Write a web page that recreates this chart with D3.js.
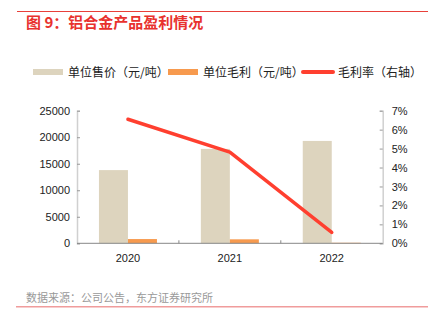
<!DOCTYPE html>
<html><head><meta charset="utf-8">
<script src="https://cdn.jsdelivr.net/npm/d3@7"></script>
<style>body{margin:0;background:#fff}svg{display:block}text{font-family:"Liberation Sans","Noto Sans CJK SC",sans-serif}</style>
</head><body>
<script>
const categories = ["2020","2021","2022"];
const unitPrice = [13800, 17800, 19300];
const unitProfit = [800, 750, 100];
const marginRate = [0.0655, 0.0481, 0.0058];
const leftTicks = [0,5000,10000,15000,20000,25000];
const rightTicks = [0,0.01,0.02,0.03,0.04,0.05,0.06,0.07];
const seriesNames = ["单位售价（元/吨）","单位毛利（元/吨）","毛利率（右轴）"];
const colors = ["#DDD4BE","#F79A4E","#FF3F2F"];

const W=438,H=328;
const svg=d3.select("body").append("svg").attr("width",W).attr("height",H);
const cjk='"Noto Sans CJK SC",sans-serif';

svg.append("line").attr("x1",17).attr("x2",428).attr("y1",11.5).attr("y2",11.5).attr("stroke","#E8403A").attr("stroke-width",1.2);
svg.append("text").attr("x",26).attr("y",28).attr("fill","#E8322E").attr("font-size",15).attr("font-weight","bold").style("font-family",cjk).text("图 9：铝合金产品盈利情况");

const x0=77,x1=382.7,yTop=110.7,yBot=243.3;
const x=d3.scaleBand().domain(categories).range([x0,x1]);
const y=d3.scaleLinear().domain([0,25000]).range([yBot,yTop]);
const y2=d3.scaleLinear().domain([0,0.07]).range([yBot,yTop]);
const bw=29;

// bars
svg.append("g").selectAll("rect").data(categories).join("rect")
 .attr("x",d=>x(d)+x.bandwidth()/2-bw).attr("width",bw)
 .attr("y",(d,i)=>y(unitPrice[i])).attr("height",(d,i)=>yBot-y(unitPrice[i])).attr("fill",colors[0]);
svg.append("g").selectAll("rect").data(categories).join("rect")
 .attr("x",d=>x(d)+x.bandwidth()/2).attr("width",bw)
 .attr("y",(d,i)=>y(unitProfit[i])).attr("height",(d,i)=>yBot-y(unitProfit[i])).attr("fill",colors[1]);

// left axis
const la=svg.append("g").attr("transform",`translate(${x0},0)`).call(d3.axisLeft(y).tickValues(leftTicks).tickSize(-3).tickPadding(7).tickFormat(d3.format("d")));
la.select(".domain").attr("stroke","#D0D0D0").attr("stroke-width",1.5);
la.selectAll(".tick line").attr("stroke","#999");
la.selectAll("text").attr("font-size",11).attr("fill","#222").style("font-family",'"Liberation Sans",sans-serif');

const ra=svg.append("g").attr("transform",`translate(${x1},0)`).call(d3.axisRight(y2).tickValues(rightTicks).tickSize(-3).tickPadding(9).tickFormat(d3.format(".0%")));
ra.select(".domain").attr("stroke","#D0D0D0").attr("stroke-width",1.5);
ra.selectAll(".tick line").attr("stroke","#999");
ra.selectAll("text").attr("font-size",11).attr("fill","#222").style("font-family",'"Liberation Sans",sans-serif');

// bottom axis
const ba=svg.append("g").attr("transform",`translate(0,${yBot})`);
ba.append("line").attr("x1",x0).attr("x2",x1).attr("stroke","#888").attr("stroke-width",1);
ba.selectAll("line.t").data(categories.slice(1)).join("line").attr("class","t")
 .attr("x1",d=>x(d)).attr("x2",d=>x(d)).attr("y1",0).attr("y2",-3).attr("stroke","#888");
ba.selectAll("text").data(categories).join("text").attr("x",d=>x(d)+x.bandwidth()/2).attr("y",18.5)
 .attr("text-anchor","middle").attr("font-size",11).attr("fill","#222").text(d=>d);

// line
const line=d3.line().x((d,i)=>x(categories[i])+x.bandwidth()/2).y(d=>y2(d));
svg.append("path").datum(marginRate).attr("d",line).attr("fill","none").attr("stroke",colors[2]).attr("stroke-width",3.5).attr("stroke-linecap","round").attr("stroke-linejoin","round");

// legend
const lg=[{x:33,tx:68},{x:168,tx:203},{x:303,tx:338}];
lg.forEach((l,i)=>{
  svg.append("line").attr("x1",l.x).attr("x2",l.x+30).attr("y1",72).attr("y2",72).attr("stroke",colors[i]).attr("stroke-width",i==2?4:6).attr("stroke-linecap",i==2?"round":"butt");
  svg.append("text").attr("x",l.tx).attr("y",76.5).attr("font-size",12).attr("fill","#222").style("font-family",cjk).text(seriesNames[i]);
});

svg.append("text").attr("x",26).attr("y",302).attr("font-size",11).attr("fill","#999").style("font-family",cjk).text("数据来源：公司公告，东方证券研究所");
svg.append("line").attr("x1",16).attr("x2",428).attr("y1",306.7).attr("y2",306.7).attr("stroke","#F09C9C").attr("stroke-width",1.5);
</script>
</body></html>
